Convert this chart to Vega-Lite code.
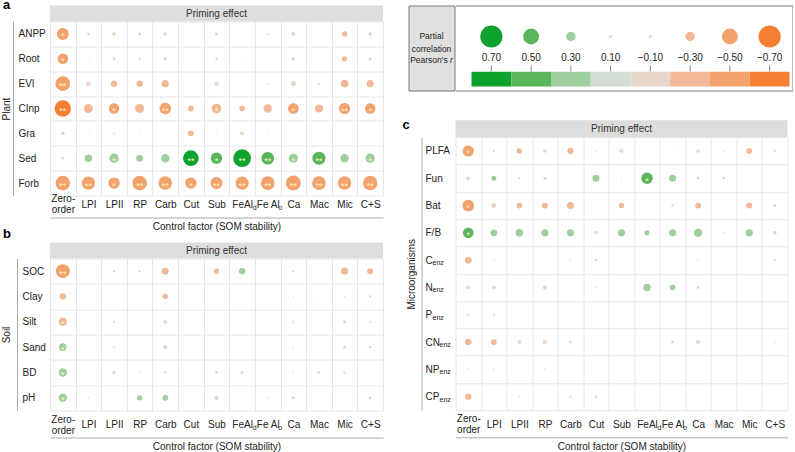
{
"$schema": "https://vega.github.io/schema/vega-lite/v6.json",
"background": "white",
"padding": {"left": 1, "top": -1.5, "right": 0, "bottom": 0},
"autosize": {"type": "pad"},
"config": {"font": "Liberation Sans", "view": {"stroke": null}, "axis": {"labelFont": "Liberation Sans", "titleFont": "Liberation Sans"}, "title": {"font": "Liberation Sans"}, "text": {"font": "Liberation Sans"}},
"datasets": {
"plant": [
{"v":"ANPP","f":"Z","r":-0.47,"s":"*"},{"v":"ANPP","f":"LPI","r":-0.1},{"v":"ANPP","f":"LPII","r":-0.15},{"v":"ANPP","f":"RP","r":-0.12},{"v":"ANPP","f":"Carb","r":-0.14},{"v":"ANPP","f":"Cut","r":-0.03},{"v":"ANPP","f":"Sub","r":-0.12},{"v":"ANPP","f":"FeAld","r":-0.02},{"v":"ANPP","f":"FeAlo","r":-0.07},{"v":"ANPP","f":"Ca","r":-0.16},{"v":"ANPP","f":"Mac","r":-0.02},{"v":"ANPP","f":"Mic","r":-0.21},{"v":"ANPP","f":"CS","r":-0.14},
{"v":"Root","f":"Z","r":-0.42,"s":"*"},{"v":"Root","f":"LPI","r":-0.05},{"v":"Root","f":"LPII","r":-0.12},{"v":"Root","f":"RP","r":-0.1},{"v":"Root","f":"Carb","r":-0.12},{"v":"Root","f":"Cut","r":-0.02},{"v":"Root","f":"Sub","r":-0.1},{"v":"Root","f":"FeAld","r":-0.05},{"v":"Root","f":"FeAlo","r":-0.04},{"v":"Root","f":"Ca","r":-0.14},{"v":"Root","f":"Mac","r":-0.02},{"v":"Root","f":"Mic","r":-0.21},{"v":"Root","f":"CS","r":-0.13},
{"v":"EVI","f":"Z","r":-0.58,"s":"**"},{"v":"EVI","f":"LPI","r":-0.19},{"v":"EVI","f":"LPII","r":-0.25},{"v":"EVI","f":"RP","r":-0.25},{"v":"EVI","f":"Carb","r":-0.28},{"v":"EVI","f":"Cut","r":-0.02},{"v":"EVI","f":"Sub","r":-0.18},{"v":"EVI","f":"FeAld","r":-0.03},{"v":"EVI","f":"FeAlo","r":-0.08},{"v":"EVI","f":"Ca","r":-0.2},{"v":"EVI","f":"Mac","r":-0.08},{"v":"EVI","f":"Mic","r":-0.3},{"v":"EVI","f":"CS","r":-0.28},
{"v":"CInp","f":"Z","r":-0.65,"s":"**"},{"v":"CInp","f":"LPI","r":-0.35},{"v":"CInp","f":"LPII","r":-0.41,"s":"*"},{"v":"CInp","f":"RP","r":-0.36},{"v":"CInp","f":"Carb","r":-0.46,"s":"**"},{"v":"CInp","f":"Cut","r":-0.23},{"v":"CInp","f":"Sub","r":-0.38,"s":"*"},{"v":"CInp","f":"FeAld","r":-0.22},{"v":"CInp","f":"FeAlo","r":-0.33},{"v":"CInp","f":"Ca","r":-0.42,"s":"*"},{"v":"CInp","f":"Mac","r":-0.32},{"v":"CInp","f":"Mic","r":-0.44,"s":"**"},{"v":"CInp","f":"CS","r":-0.41,"s":"*"},
{"v":"Gra","f":"Z","r":0.15},{"v":"Gra","f":"LPI","r":0.05},{"v":"Gra","f":"LPII","r":-0.07},{"v":"Gra","f":"RP","r":0.05},{"v":"Gra","f":"Carb","r":0},{"v":"Gra","f":"Cut","r":-0.23},{"v":"Gra","f":"Sub","r":-0.05},{"v":"Gra","f":"FeAld","r":-0.15},{"v":"Gra","f":"FeAlo","r":-0.05},{"v":"Gra","f":"Ca","r":0},{"v":"Gra","f":"Mac","r":0.03},{"v":"Gra","f":"Mic","r":0.04},{"v":"Gra","f":"CS","r":0},
{"v":"Sed","f":"Z","r":0.12},{"v":"Sed","f":"LPI","r":0.3},{"v":"Sed","f":"LPII","r":0.37,"s":"*"},{"v":"Sed","f":"RP","r":0.28},{"v":"Sed","f":"Carb","r":0.33},{"v":"Sed","f":"Cut","r":0.62,"s":"**"},{"v":"Sed","f":"Sub","r":0.45,"s":"*"},{"v":"Sed","f":"FeAld","r":0.7,"s":"**"},{"v":"Sed","f":"FeAlo","r":0.5,"s":"**"},{"v":"Sed","f":"Ca","r":0.36,"s":"*"},{"v":"Sed","f":"Mac","r":0.52,"s":"**"},{"v":"Sed","f":"Mic","r":0.33},{"v":"Sed","f":"CS","r":0.37,"s":"*"},
{"v":"Forb","f":"Z","r":-0.57,"s":"**"},{"v":"Forb","f":"LPI","r":-0.52,"s":"**"},{"v":"Forb","f":"LPII","r":-0.45,"s":"*"},{"v":"Forb","f":"RP","r":-0.58,"s":"**"},{"v":"Forb","f":"Carb","r":-0.53,"s":"**"},{"v":"Forb","f":"Cut","r":-0.45,"s":"*"},{"v":"Forb","f":"Sub","r":-0.48,"s":"**"},{"v":"Forb","f":"FeAld","r":-0.52,"s":"**"},{"v":"Forb","f":"FeAlo","r":-0.54,"s":"**"},{"v":"Forb","f":"Ca","r":-0.59,"s":"**"},{"v":"Forb","f":"Mac","r":-0.54,"s":"**"},{"v":"Forb","f":"Mic","r":-0.53,"s":"**"},{"v":"Forb","f":"CS","r":-0.57,"s":"**"}
],
"soil": [
{"v":"SOC","f":"Z","r":-0.55,"s":"**"},{"v":"SOC","f":"LPI","r":-0.03},{"v":"SOC","f":"LPII","r":-0.1},{"v":"SOC","f":"RP","r":-0.1},{"v":"SOC","f":"Carb","r":-0.27},{"v":"SOC","f":"Cut","r":-0.03},{"v":"SOC","f":"Sub","r":-0.21},{"v":"SOC","f":"FeAld","r":0.25},{"v":"SOC","f":"FeAlo","r":0},{"v":"SOC","f":"Ca","r":-0.08},{"v":"SOC","f":"Mac","r":-0.02},{"v":"SOC","f":"Mic","r":-0.28},{"v":"SOC","f":"CS","r":-0.24},
{"v":"Clay","f":"Z","r":-0.25},{"v":"Clay","f":"LPI","r":-0.03},{"v":"Clay","f":"LPII","r":-0.02},{"v":"Clay","f":"RP","r":0},{"v":"Clay","f":"Carb","r":-0.22},{"v":"Clay","f":"Cut","r":0},{"v":"Clay","f":"Sub","r":-0.02},{"v":"Clay","f":"FeAld","r":0.03},{"v":"Clay","f":"FeAlo","r":0},{"v":"Clay","f":"Ca","r":-0.05},{"v":"Clay","f":"Mac","r":-0.04},{"v":"Clay","f":"Mic","r":-0.05},{"v":"Clay","f":"CS","r":-0.1},
{"v":"Silt","f":"Z","r":-0.32,"s":"*"},{"v":"Silt","f":"LPI","r":-0.03},{"v":"Silt","f":"LPII","r":-0.08},{"v":"Silt","f":"RP","r":-0.04},{"v":"Silt","f":"Carb","r":-0.15},{"v":"Silt","f":"Cut","r":-0.03},{"v":"Silt","f":"Sub","r":0},{"v":"Silt","f":"FeAld","r":-0.03},{"v":"Silt","f":"FeAlo","r":-0.03},{"v":"Silt","f":"Ca","r":-0.08},{"v":"Silt","f":"Mac","r":0},{"v":"Silt","f":"Mic","r":-0.12},{"v":"Silt","f":"CS","r":-0.07},
{"v":"Sand","f":"Z","r":0.3,"s":"*"},{"v":"Sand","f":"LPI","r":0.02},{"v":"Sand","f":"LPII","r":0.07},{"v":"Sand","f":"RP","r":0.03},{"v":"Sand","f":"Carb","r":0.17},{"v":"Sand","f":"Cut","r":0.03},{"v":"Sand","f":"Sub","r":0},{"v":"Sand","f":"FeAld","r":0.03},{"v":"Sand","f":"FeAlo","r":0.02},{"v":"Sand","f":"Ca","r":0.06},{"v":"Sand","f":"Mac","r":0},{"v":"Sand","f":"Mic","r":0.12},{"v":"Sand","f":"CS","r":0.1},
{"v":"BD","f":"Z","r":0.33,"s":"*"},{"v":"BD","f":"LPI","r":0.02},{"v":"BD","f":"LPII","r":0.15},{"v":"BD","f":"RP","r":0.06},{"v":"BD","f":"Carb","r":0.1},{"v":"BD","f":"Cut","r":0.02},{"v":"BD","f":"Sub","r":0.11},{"v":"BD","f":"FeAld","r":-0.12},{"v":"BD","f":"FeAlo","r":0},{"v":"BD","f":"Ca","r":0.06},{"v":"BD","f":"Mac","r":-0.1},{"v":"BD","f":"Mic","r":0.1},{"v":"BD","f":"CS","r":0.04},
{"v":"pH","f":"Z","r":0.33,"s":"*"},{"v":"pH","f":"LPI","r":0.06},{"v":"pH","f":"LPII","r":0.04},{"v":"pH","f":"RP","r":0.21},{"v":"pH","f":"Carb","r":0.23},{"v":"pH","f":"Cut","r":0},{"v":"pH","f":"Sub","r":0.17},{"v":"pH","f":"FeAld","r":0},{"v":"pH","f":"FeAlo","r":0.06},{"v":"pH","f":"Ca","r":0.13},{"v":"pH","f":"Mac","r":0.02},{"v":"pH","f":"Mic","r":0.04},{"v":"pH","f":"CS","r":0.12}
],
"micro": [
{"v":"PLFA","f":"Z","r":-0.44,"s":"*"},{"v":"PLFA","f":"LPI","r":-0.08},{"v":"PLFA","f":"LPII","r":-0.21},{"v":"PLFA","f":"RP","r":-0.14},{"v":"PLFA","f":"Carb","r":-0.25},{"v":"PLFA","f":"Cut","r":-0.06},{"v":"PLFA","f":"Sub","r":-0.15},{"v":"PLFA","f":"FeAld","r":-0.04},{"v":"PLFA","f":"FeAlo","r":-0.04},{"v":"PLFA","f":"Ca","r":-0.14},{"v":"PLFA","f":"Mac","r":-0.06},{"v":"PLFA","f":"Mic","r":-0.23},{"v":"PLFA","f":"CS","r":-0.08},
{"v":"Fun","f":"Z","r":-0.15},{"v":"Fun","f":"LPI","r":0.2},{"v":"Fun","f":"LPII","r":0.08},{"v":"Fun","f":"RP","r":0.12},{"v":"Fun","f":"Carb","r":0},{"v":"Fun","f":"Cut","r":0.28},{"v":"Fun","f":"Sub","r":0.05},{"v":"Fun","f":"FeAld","r":0.45,"s":"*"},{"v":"Fun","f":"FeAlo","r":0.28},{"v":"Fun","f":"Ca","r":0.1},{"v":"Fun","f":"Mac","r":0.1},{"v":"Fun","f":"Mic","r":0.02},{"v":"Fun","f":"CS","r":0.02},
{"v":"Bat","f":"Z","r":-0.46,"s":"*"},{"v":"Bat","f":"LPI","r":-0.2},{"v":"Bat","f":"LPII","r":-0.23},{"v":"Bat","f":"RP","r":-0.23},{"v":"Bat","f":"Carb","r":-0.28},{"v":"Bat","f":"Cut","r":-0.02},{"v":"Bat","f":"Sub","r":-0.22},{"v":"Bat","f":"FeAld","r":-0.02},{"v":"Bat","f":"FeAlo","r":-0.1},{"v":"Bat","f":"Ca","r":-0.23},{"v":"Bat","f":"Mac","r":-0.03},{"v":"Bat","f":"Mic","r":-0.24},{"v":"Bat","f":"CS","r":-0.12},
{"v":"F/B","f":"Z","r":0.42,"s":"*"},{"v":"F/B","f":"LPI","r":0.27},{"v":"F/B","f":"LPII","r":0.3},{"v":"F/B","f":"RP","r":0.28},{"v":"F/B","f":"Carb","r":0.28},{"v":"F/B","f":"Cut","r":0.14},{"v":"F/B","f":"Sub","r":0.28},{"v":"F/B","f":"FeAld","r":0.2},{"v":"F/B","f":"FeAlo","r":0.28},{"v":"F/B","f":"Ca","r":0.32},{"v":"F/B","f":"Mac","r":0.06},{"v":"F/B","f":"Mic","r":0.29},{"v":"F/B","f":"CS","r":0.15},
{"v":"Cenz","f":"Z","r":-0.27},{"v":"Cenz","f":"LPI","r":-0.06},{"v":"Cenz","f":"LPII","r":-0.04},{"v":"Cenz","f":"RP","r":0.04},{"v":"Cenz","f":"Carb","r":-0.06},{"v":"Cenz","f":"Cut","r":0.11},{"v":"Cenz","f":"Sub","r":0.04},{"v":"Cenz","f":"FeAld","r":0.04},{"v":"Cenz","f":"FeAlo","r":0},{"v":"Cenz","f":"Ca","r":0.06},{"v":"Cenz","f":"Mac","r":0.02},{"v":"Cenz","f":"Mic","r":0.04},{"v":"Cenz","f":"CS","r":-0.08},
{"v":"Nenz","f":"Z","r":-0.15},{"v":"Nenz","f":"LPI","r":0.15},{"v":"Nenz","f":"LPII","r":0.02},{"v":"Nenz","f":"RP","r":0.17},{"v":"Nenz","f":"Carb","r":0},{"v":"Nenz","f":"Cut","r":0.06},{"v":"Nenz","f":"Sub","r":0},{"v":"Nenz","f":"FeAld","r":0.3},{"v":"Nenz","f":"FeAlo","r":0.22},{"v":"Nenz","f":"Ca","r":0.11},{"v":"Nenz","f":"Mac","r":0.04},{"v":"Nenz","f":"Mic","r":0.03},{"v":"Nenz","f":"CS","r":0},
{"v":"Penz","f":"Z","r":0.07},{"v":"Penz","f":"LPI","r":0.07},{"v":"Penz","f":"LPII","r":0},{"v":"Penz","f":"RP","r":0.04},{"v":"Penz","f":"Carb","r":0},{"v":"Penz","f":"Cut","r":0.02},{"v":"Penz","f":"Sub","r":0},{"v":"Penz","f":"FeAld","r":0},{"v":"Penz","f":"FeAlo","r":0},{"v":"Penz","f":"Ca","r":0},{"v":"Penz","f":"Mac","r":0},{"v":"Penz","f":"Mic","r":0.03},{"v":"Penz","f":"CS","r":0},
{"v":"CNenz","f":"Z","r":-0.26},{"v":"CNenz","f":"LPI","r":-0.23},{"v":"CNenz","f":"LPII","r":-0.15},{"v":"CNenz","f":"RP","r":-0.17},{"v":"CNenz","f":"Carb","r":-0.1},{"v":"CNenz","f":"Cut","r":-0.04},{"v":"CNenz","f":"Sub","r":-0.02},{"v":"CNenz","f":"FeAld","r":0.03},{"v":"CNenz","f":"FeAlo","r":-0.12},{"v":"CNenz","f":"Ca","r":-0.17},{"v":"CNenz","f":"Mac","r":0},{"v":"CNenz","f":"Mic","r":0.04},{"v":"CNenz","f":"CS","r":-0.06},
{"v":"NPenz","f":"Z","r":0.07},{"v":"NPenz","f":"LPI","r":0.07},{"v":"NPenz","f":"LPII","r":0},{"v":"NPenz","f":"RP","r":0.07},{"v":"NPenz","f":"Carb","r":0.04},{"v":"NPenz","f":"Cut","r":0},{"v":"NPenz","f":"Sub","r":0.02},{"v":"NPenz","f":"FeAld","r":0.04},{"v":"NPenz","f":"FeAlo","r":0.02},{"v":"NPenz","f":"Ca","r":0},{"v":"NPenz","f":"Mac","r":0.02},{"v":"NPenz","f":"Mic","r":0.02},{"v":"NPenz","f":"CS","r":0.02},
{"v":"CPenz","f":"Z","r":-0.25},{"v":"CPenz","f":"LPI","r":0.02},{"v":"CPenz","f":"LPII","r":-0.06},{"v":"CPenz","f":"RP","r":0.02},{"v":"CPenz","f":"Carb","r":-0.08},{"v":"CPenz","f":"Cut","r":0.1},{"v":"CPenz","f":"Sub","r":0.02},{"v":"CPenz","f":"FeAld","r":0.03},{"v":"CPenz","f":"FeAlo","r":0},{"v":"CPenz","f":"Ca","r":0.04},{"v":"CPenz","f":"Mac","r":0.02},{"v":"CPenz","f":"Mic","r":0.02},{"v":"CPenz","f":"CS","r":0.03}
],
"legend": [
{"r":0.7,"lab":"0.70"},{"r":0.5,"lab":"0.50"},{"r":0.3,"lab":"0.30"},{"r":0.1,"lab":"0.10"},{"r":-0.1,"lab":"−0.10"},{"r":-0.3,"lab":"−0.30"},{"r":-0.5,"lab":"−0.50"},{"r":-0.7,"lab":"−0.70"}
]
},
"spacing": 19.5,
"resolve": {"scale": {"color": "independent", "size": "independent"}},
"hconcat": [
{
"vconcat": [
{
"vconcat": [
{"width": 333, "height": 16, "view": {"fill": "#dddddd", "stroke": null},
 "data": {"values": [{}]},
 "layer": [
  {"mark": {"type": "text", "text": "Priming effect", "fontSize": 10, "color": "#333333"}, "encoding": {}},
  {"mark": {"type": "text", "text": "a", "align": "left", "baseline": "alphabetic", "fontSize": 13, "fontWeight": "bold", "dx": -213.5, "dy": -4.5, "color": "#000000"}, "encoding": {}}
 ]},
{"width": 333, "height": 174,
 "data": {"name": "plant"},
 "layer": [
  {"mark": {"type": "circle", "opacity": 1},
   "encoding": {
    "x": {"field": "f", "type": "nominal", "scale": {"type": "band", "domain": ["Z","LPI","LPII","RP","Carb","Cut","Sub","FeAld","FeAlo","Ca","Mac","Mic","CS"], "paddingInner": 0, "paddingOuter": 0},
      "axis": {"orient": "bottom", "offset": 22, "domain": true, "domainColor": "#aaaaaa", "ticks": false, "grid": true, "gridColor": "#e6e6e6", "tickBand": "extent", "labelAngle": 0, "labelPadding": {"condition": {"test": "datum.value == 'Z'", "value": -19}, "value": -13.5}, "labelBaseline": "middle", "labelLineHeight": 11, "labelFontSize": 10, "labelColor": "#222222", "labelExpr": "datum.value == 'Z' ? ['Zero-', 'order'] : datum.value == 'FeAld' ? 'FeAl' : datum.value == 'FeAlo' ? 'Fe Al' : datum.value == 'CS' ? 'C+S' : datum.label", "title": "Control factor (SOM stability)", "titlePadding": 4, "titleFontSize": 10, "titleFontWeight": "normal", "titleColor": "#222222", "minExtent": 0}},
    "y": {"field": "v", "type": "nominal", "scale": {"type": "band", "domain": ["ANPP","Root","EVI","CInp","Gra","Sed","Forb"], "paddingInner": 0, "paddingOuter": 0},
      "axis": {"orient": "left", "offset": 37, "domain": true, "domainColor": "#aaaaaa", "ticks": false, "grid": true, "gridColor": "#e6e6e6", "tickBand": "extent", "labelAlign": "left", "labelBaseline": "middle", "labelPadding": -5, "labelFontSize": 10, "labelColor": "#222222", "title": "Plant", "titlePadding": 2, "titleFontSize": 10, "titleFontWeight": "normal", "titleColor": "#222222", "minExtent": 0}},
    "size": {"field": "r", "type": "quantitative", "scale": {"type": "pow", "exponent": 2, "domain": [-0.7, 0, 0.7], "range": [314, 0, 314]}, "legend": null},
    "color": {"field": "r", "type": "quantitative", "scale": {"type": "threshold", "domain": [-0.6,-0.4,-0.2,0,0.2,0.4,0.6], "range": ["#f47f32","#f2a26c","#f1b998","#e6d6cb","#d3ddd3","#9fcf9e","#5bb55c","#10a22f"]}, "legend": null}}},
  {"transform": [{"filter": "isValid(datum.s)"}],
   "mark": {"type": "text", "color": "#fff4c2", "fontSize": 9, "baseline": "middle", "dy": 2.5},
   "encoding": {
    "x": {"field": "f", "type": "nominal", "scale": {"type": "band", "domain": ["Z","LPI","LPII","RP","Carb","Cut","Sub","FeAld","FeAlo","Ca","Mac","Mic","CS"], "paddingInner": 0, "paddingOuter": 0},
      "axis": {"orient": "bottom", "offset": 22, "domain": false, "ticks": false, "grid": false, "labelAngle": 0, "labelPadding": -10.5, "labelBaseline": "middle", "labelFontSize": 7, "labelOffset": 12.5, "labelColor": "#222222", "labelExpr": "datum.value == 'FeAld' ? 'd' : datum.value == 'FeAlo' ? 'o' : ''", "title": null, "minExtent": 0}},
    "y": {"field": "v", "type": "nominal", "scale": {"type": "band", "domain": ["ANPP","Root","EVI","CInp","Gra","Sed","Forb"], "paddingInner": 0, "paddingOuter": 0}},
    "text": {"field": "s"}}}
 ],
 "resolve": {"scale": {"x": "independent"}, "axis": {"x": "independent"}}}
],
"spacing": 0, "bounds": "flush",
"resolve": {"scale": {"color": "independent", "size": "independent"}}
},
{
"vconcat": [
{"width": 333, "height": 16, "view": {"fill": "#dddddd", "stroke": null},
 "data": {"values": [{}]},
 "layer": [
  {"mark": {"type": "text", "text": "Priming effect", "fontSize": 10, "color": "#333333"}, "encoding": {}},
  {"mark": {"type": "text", "text": "b", "align": "left", "baseline": "alphabetic", "fontSize": 13, "fontWeight": "bold", "dx": -213.5, "dy": -13, "color": "#000000"}, "encoding": {}}
 ]},
{"width": 333, "height": 152,
 "data": {"name": "soil"},
 "layer": [
  {"mark": {"type": "circle", "opacity": 1},
   "encoding": {
    "x": {"field": "f", "type": "nominal", "scale": {"type": "band", "domain": ["Z","LPI","LPII","RP","Carb","Cut","Sub","FeAld","FeAlo","Ca","Mac","Mic","CS"], "paddingInner": 0, "paddingOuter": 0},
      "axis": {"orient": "bottom", "offset": 27, "domain": true, "domainColor": "#aaaaaa", "ticks": false, "grid": true, "gridColor": "#e6e6e6", "tickBand": "extent", "labelAngle": 0, "labelPadding": {"condition": {"test": "datum.value == 'Z'", "value": -18.5}, "value": -13}, "labelBaseline": "middle", "labelLineHeight": 11, "labelFontSize": 10, "labelColor": "#222222", "labelExpr": "datum.value == 'Z' ? ['Zero-', 'order'] : datum.value == 'FeAld' ? 'FeAl' : datum.value == 'FeAlo' ? 'Fe Al' : datum.value == 'CS' ? 'C+S' : datum.label", "title": "Control factor (SOM stability)", "titlePadding": 4, "titleFontSize": 10, "titleFontWeight": "normal", "titleColor": "#222222", "minExtent": 0}},
    "y": {"field": "v", "type": "nominal", "scale": {"type": "band", "domain": ["SOC","Clay","Silt","Sand","BD","pH"], "paddingInner": 0, "paddingOuter": 0},
      "axis": {"orient": "left", "offset": 33, "domain": true, "domainColor": "#aaaaaa", "ticks": false, "grid": true, "gridColor": "#e6e6e6", "tickBand": "extent", "labelAlign": "left", "labelBaseline": "middle", "labelPadding": -5, "labelFontSize": 10, "labelColor": "#222222", "title": "Soil", "titlePadding": 6, "titleFontSize": 10, "titleFontWeight": "normal", "titleColor": "#222222", "minExtent": 0}},
    "size": {"field": "r", "type": "quantitative", "scale": {"type": "pow", "exponent": 2, "domain": [-0.7, 0, 0.7], "range": [314, 0, 314]}, "legend": null},
    "color": {"field": "r", "type": "quantitative", "scale": {"type": "threshold", "domain": [-0.6,-0.4,-0.2,0,0.2,0.4,0.6], "range": ["#f47f32","#f2a26c","#f1b998","#e6d6cb","#d3ddd3","#9fcf9e","#5bb55c","#10a22f"]}, "legend": null}}},
  {"transform": [{"filter": "isValid(datum.s)"}],
   "mark": {"type": "text", "color": "#fff4c2", "fontSize": 9, "baseline": "middle", "dy": 2.5},
   "encoding": {
    "x": {"field": "f", "type": "nominal", "scale": {"type": "band", "domain": ["Z","LPI","LPII","RP","Carb","Cut","Sub","FeAld","FeAlo","Ca","Mac","Mic","CS"], "paddingInner": 0, "paddingOuter": 0},
      "axis": {"orient": "bottom", "offset": 27, "domain": false, "ticks": false, "grid": false, "labelAngle": 0, "labelPadding": -10, "labelBaseline": "middle", "labelFontSize": 7, "labelOffset": 12.5, "labelColor": "#222222", "labelExpr": "datum.value == 'FeAld' ? 'd' : datum.value == 'FeAlo' ? 'o' : ''", "title": null, "minExtent": 0}},
    "y": {"field": "v", "type": "nominal", "scale": {"type": "band", "domain": ["SOC","Clay","Silt","Sand","BD","pH"], "paddingInner": 0, "paddingOuter": 0}},
    "text": {"field": "s"}}}
 ],
 "resolve": {"scale": {"x": "independent"}, "axis": {"x": "independent"}}}
],
"spacing": 0, "bounds": "flush",
"resolve": {"scale": {"color": "independent", "size": "independent"}}
}
],
"spacing": -4,
"resolve": {"scale": {"color": "independent", "size": "independent"}}
},
{
"hconcat": [
{"width": 46, "height": 85, "view": {"fill": "#e0e0e0", "stroke": "#777777"},
 "data": {"values": [{}]},
 "layer": [
  {"mark": {"type": "text", "text": ["Partial", "correlation"], "fontSize": 8.5, "lineHeight": 13, "dx": 0, "dy": -12.5, "color": "#222222"}, "encoding": {}},
  {"mark": {"type": "text", "text": "Pearson's", "align": "right", "fontSize": 8.5, "dx": 16.2, "dy": 11.5, "color": "#222222"}, "encoding": {}},
  {"mark": {"type": "text", "text": "r", "align": "left", "fontStyle": "italic", "fontSize": 8.5, "dx": 18.6, "dy": 11.5, "color": "#222222"}, "encoding": {}}
 ]},
{
"vconcat": [
{"width": 337, "height": 85, "view": {"stroke": null},
 "data": {"name": "legend"},
 "layer": [
  {"mark": {"type": "rect"},
   "encoding": {
    "x": {"field": "lab", "type": "nominal", "scale": {"type": "band", "domain": ["0.70","0.50","0.30","0.10","−0.10","−0.30","−0.50","−0.70"], "paddingInner": 0, "paddingOuter": 0.239, "align": 0.842},
      "axis": {"orient": "bottom", "domain": true, "domainColor": "#777777", "labels": false, "ticks": false, "grid": false, "title": null, "minExtent": 0}},
    "y": {"datum": "b", "type": "nominal", "scale": {"type": "band", "domain": ["c","l","b"], "paddingInner": 0.3, "paddingOuter": 0.646, "align": 0.856},
      "axis": {"orient": "right", "domain": true, "domainColor": "#777777", "labels": false, "ticks": false, "grid": false, "title": null, "minExtent": 0}},
    "color": {"field": "r", "type": "quantitative", "scale": {"type": "threshold", "domain": [-0.6,-0.4,-0.2,0,0.2,0.4,0.6], "range": ["#f47f32","#f2a26c","#f1b998","#e6d6cb","#d3ddd3","#9fcf9e","#5bb55c","#10a22f"]}, "legend": null}}},
  {"mark": {"type": "tick", "orient": "vertical", "size": 6, "thickness": 1, "yOffset": -10.6, "color": "#555555"},
   "encoding": {
    "x": {"field": "lab", "type": "nominal", "scale": {"type": "band", "domain": ["0.70","0.50","0.30","0.10","−0.10","−0.30","−0.50","−0.70"], "paddingInner": 0, "paddingOuter": 0.239, "align": 0.842}, "axis": null},
    "y": {"datum": "b", "type": "nominal"}}},
  {"mark": {"type": "circle", "opacity": 1},
   "encoding": {
    "x": {"field": "lab", "type": "nominal", "scale": {"type": "band", "domain": ["0.70","0.50","0.30","0.10","−0.10","−0.30","−0.50","−0.70"], "paddingInner": 0, "paddingOuter": 0.239, "align": 0.842}, "axis": null},
    "y": {"datum": "c", "type": "nominal"},
    "size": {"field": "r", "type": "quantitative", "scale": {"type": "pow", "exponent": 2, "domain": [-0.7, 0, 0.7], "range": [491, 0, 491]}, "legend": null},
    "color": {"field": "r", "type": "quantitative", "scale": {"type": "threshold", "domain": [-0.6,-0.4,-0.2,0,0.2,0.4,0.6], "range": ["#f47f32","#f2a26c","#f1b998","#e6d6cb","#d3ddd3","#9fcf9e","#5bb55c","#10a22f"]}, "legend": null}}},
  {"mark": {"type": "text", "fontSize": 10, "color": "#222222"},
   "encoding": {
    "x": {"field": "lab", "type": "nominal", "scale": {"type": "band", "domain": ["0.70","0.50","0.30","0.10","−0.10","−0.30","−0.50","−0.70"], "paddingInner": 0, "paddingOuter": 0.239, "align": 0.842},
      "axis": {"orient": "top", "domain": true, "domainColor": "#777777", "labels": false, "ticks": false, "grid": false, "title": null, "minExtent": 0}},
    "y": {"datum": "l", "type": "nominal"},
    "text": {"field": "lab"}}}
 ],
 "resolve": {"scale": {"x": "independent"}, "axis": {"x": "independent"}}},
{
"vconcat": [
{"width": 332, "height": 17, "view": {"fill": "#dddddd", "stroke": null},
 "data": {"values": [{}]},
 "layer": [
  {"mark": {"type": "text", "text": "Priming effect", "fontSize": 10, "color": "#333333"}, "encoding": {}},
  {"mark": {"type": "text", "text": "c", "align": "left", "baseline": "alphabetic", "fontSize": 13, "fontWeight": "bold", "dx": -219, "dy": -0.2, "color": "#000000"}, "encoding": {}}
 ]},
{"width": 332, "height": 273,
 "data": {"name": "micro"},
 "layer": [
  {"mark": {"type": "circle", "opacity": 1},
   "encoding": {
    "x": {"field": "f", "type": "nominal", "scale": {"type": "band", "domain": ["Z","LPI","LPII","RP","Carb","Cut","Sub","FeAld","FeAlo","Ca","Mac","Mic","CS"], "paddingInner": 0, "paddingOuter": 0},
      "axis": {"orient": "bottom", "offset": 27, "domain": true, "domainColor": "#aaaaaa", "ticks": false, "grid": true, "gridColor": "#e6e6e6", "tickBand": "extent", "labelAngle": 0, "labelPadding": {"condition": {"test": "datum.value == 'Z'", "value": -18.5}, "value": -13}, "labelBaseline": "middle", "labelLineHeight": 11, "labelFontSize": 10, "labelColor": "#222222", "labelExpr": "datum.value == 'Z' ? ['Zero-', 'order'] : datum.value == 'FeAld' ? 'FeAl' : datum.value == 'FeAlo' ? 'Fe Al' : datum.value == 'CS' ? 'C+S' : datum.label", "title": "Control factor (SOM stability)", "titlePadding": 4, "titleFontSize": 10, "titleFontWeight": "normal", "titleColor": "#222222", "minExtent": 0}},
    "y": {"field": "v", "type": "nominal", "scale": {"type": "band", "domain": ["PLFA","Fun","Bat","F/B","Cenz","Nenz","Penz","CNenz","NPenz","CPenz"], "paddingInner": 0, "paddingOuter": 0},
      "axis": {"orient": "left", "offset": 34, "domain": true, "domainColor": "#aaaaaa", "ticks": false, "grid": true, "gridColor": "#e6e6e6", "tickBand": "extent", "labelAlign": "left", "labelBaseline": "middle", "labelPadding": -3.5, "labelFontSize": 10, "labelColor": "#222222", "labelExpr": "datum.value == 'Cenz' ? 'C' : datum.value == 'Nenz' ? 'N' : datum.value == 'Penz' ? 'P' : datum.value == 'CNenz' ? 'CN' : datum.value == 'NPenz' ? 'NP' : datum.value == 'CPenz' ? 'CP' : datum.label", "title": "Microorganisms", "titlePadding": 5, "titleFontSize": 10, "titleFontWeight": "normal", "titleColor": "#222222", "minExtent": 0}},
    "size": {"field": "r", "type": "quantitative", "scale": {"type": "pow", "exponent": 2, "domain": [-0.7, 0, 0.7], "range": [314, 0, 314]}, "legend": null},
    "color": {"field": "r", "type": "quantitative", "scale": {"type": "threshold", "domain": [-0.6,-0.4,-0.2,0,0.2,0.4,0.6], "range": ["#f47f32","#f2a26c","#f1b998","#e6d6cb","#d3ddd3","#9fcf9e","#5bb55c","#10a22f"]}, "legend": null}}},
  {"transform": [{"filter": "isValid(datum.s)"}],
   "mark": {"type": "text", "color": "#fff4c2", "fontSize": 9, "baseline": "middle", "dy": 2.5},
   "encoding": {
    "x": {"field": "f", "type": "nominal", "scale": {"type": "band", "domain": ["Z","LPI","LPII","RP","Carb","Cut","Sub","FeAld","FeAlo","Ca","Mac","Mic","CS"], "paddingInner": 0, "paddingOuter": 0},
      "axis": {"orient": "bottom", "offset": 27, "domain": false, "ticks": false, "grid": false, "labelAngle": 0, "labelPadding": -10, "labelBaseline": "middle", "labelFontSize": 7, "labelOffset": 12.5, "labelColor": "#222222", "labelExpr": "datum.value == 'FeAld' ? 'd' : datum.value == 'FeAlo' ? 'o' : ''", "title": null, "minExtent": 0}},
    "y": {"field": "v", "type": "nominal", "scale": {"type": "band", "domain": ["PLFA","Fun","Bat","F/B","Cenz","Nenz","Penz","CNenz","NPenz","CPenz"], "paddingInner": 0, "paddingOuter": 0},
      "axis": {"orient": "left", "offset": 34, "domain": false, "ticks": false, "grid": false, "labelAlign": "left", "labelBaseline": "middle", "labelFontSize": 7, "labelOffset": 3, "labelPadding": {"condition": {"test": "datum.value == 'CNenz' || datum.value == 'NPenz' || datum.value == 'CPenz'", "value": -17.5}, "value": -10.5}, "labelColor": "#222222", "labelExpr": "datum.value == 'Cenz' || datum.value == 'Nenz' || datum.value == 'Penz' || datum.value == 'CNenz' || datum.value == 'NPenz' || datum.value == 'CPenz' ? 'enz' : ''", "title": null, "minExtent": 0}},
    "text": {"field": "s"}}}
 ],
 "resolve": {"scale": {"x": "independent", "y": "independent"}, "axis": {"x": "independent", "y": "independent"}}}
],
"spacing": 0, "bounds": "flush",
"resolve": {"scale": {"color": "independent", "size": "independent"}}
}
],
"spacing": 27.8,
"resolve": {"scale": {"color": "independent", "size": "independent"}}
}
],
"spacing": -74.5,
"resolve": {"scale": {"color": "independent", "size": "independent"}}
}
]
}
